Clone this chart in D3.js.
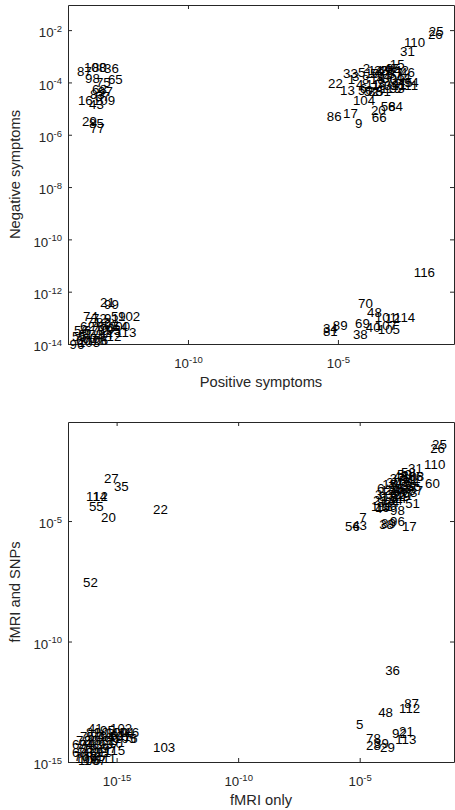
<!DOCTYPE html>
<html><head><meta charset="utf-8">
<script src="https://cdn.jsdelivr.net/npm/d3@7"></script>
<style>
body{margin:0;background:#fff}
text{font-family:"Liberation Sans",Arial,Helvetica,sans-serif}
</style>
</head><body>
<svg id="c" width="455" height="810"></svg>
<script>
// ---------- Panel 1: Positive vs Negative symptoms (log10 of values) ----------
const topLabels = [
 87,108,80,36,98,75,65,68,97,57,83,16,43,29,85,77,109,
 25,26,110,31,15,2,33,22,13,104,20,58,64,66,86,17,9,51,88,93,94,111,115,
 1,3,4,5,6,8,10,11,14,18,19,23,24,27,28,30,32,35,37,39,41,42,44,45,46,47,49,50,52,53,
 21,99,74,72,7,59,102,54,113,96,91,112,
 55,56,60,61,62,63,67,71,73,76,78,79,82,84,90,92,95,100,103,106,
 116,70,48,101,12,114,69,40,107,105,38,34,81,89
];
const topPositiveLog = [
 -13.70,-13.47,-13.20,-12.80,-13.43,-13.07,-12.67,-13.20,-13.00,-13.10,-13.27,-13.67,-13.30,-13.53,-13.30,-13.27,-13.17,
 -1.97,-2.00,-2.80,-2.93,-3.27,-4.17,-4.83,-5.33,-4.93,-4.50,-3.90,-3.57,-3.33,-3.87,-5.37,-4.83,-4.43,-3.73,-4.00,-3.27,-2.80,-3.00,-3.60,
 -4.67,-4.53,-4.40,-4.33,-4.27,-4.20,-4.10,-4.07,-4.00,-3.93,-3.87,-3.80,-3.73,-3.67,-3.60,-3.53,-3.47,-3.40,-3.33,-3.27,-3.20,-3.13,-3.07,-3.00,-2.93,-3.47,-3.67,-4.33,-4.13,-3.93,
 -12.93,-12.80,-13.50,-13.20,-13.27,-12.57,-12.33,-12.50,-12.43,-13.95,-12.80,-12.93,
 -13.87,-13.80,-13.73,-13.67,-13.60,-13.53,-13.47,-13.40,-13.33,-13.27,-13.20,-13.13,-13.07,-13.00,-12.93,-12.80,-12.73,-12.67,-13.67,-13.40,
 -2.47,-4.33,-4.03,-3.77,-3.43,-3.13,-4.43,-4.07,-3.77,-3.67,-4.50,-5.50,-5.50,-5.17
];
const topNegativeLog = [
 -3.56,-3.41,-3.41,-3.48,-3.83,-3.98,-3.90,-4.25,-4.36,-4.52,-4.44,-4.67,-4.82,-5.47,-5.55,-5.74,-4.67,
 -2.03,-2.15,-2.45,-2.83,-3.29,-3.48,-3.67,-4.02,-4.29,-4.67,-5.05,-4.90,-4.90,-5.32,-5.28,-5.17,-5.55,-4.33,-4.36,-4.21,-3.98,-4.13,-4.21,
 -3.90,-3.75,-4.06,-3.60,-4.21,-3.87,-3.67,-4.06,-3.52,-3.90,-4.13,-3.52,-3.75,-3.98,-3.52,-3.83,-4.13,-3.45,-3.67,-3.90,-4.06,-3.52,-3.79,-3.98,-3.60,-3.45,-3.52,-4.29,-4.36,-3.67,
 -12.39,-12.47,-12.93,-13.01,-13.77,-12.93,-12.93,-13.31,-13.54,-14.00,-13.01,-13.69,
 -13.69,-13.46,-13.85,-13.62,-13.31,-13.77,-13.46,-13.16,-13.62,-13.31,-13.85,-13.46,-13.16,-13.62,-13.39,-13.24,-13.46,-13.31,-13.92,-13.85,
 -11.25,-12.43,-12.78,-12.97,-13.01,-12.97,-13.20,-13.35,-13.27,-13.43,-13.62,-13.39,-13.50,-13.27
];
const topXTicks = [1e-10, 1e-5];
const topYTicks = [1e-14, 1e-12, 1e-10, 1e-8, 1e-6, 1e-4, 1e-2];

// ---------- Panel 2: fMRI only vs fMRI and SNPs (log10 of values) ----------
const botLabels = [
 27,35,114,12,55,20,22,52,
 25,26,110,31,60,19,16,98,56,7,43,38,89,96,17,51,108,
 1,2,3,4,6,8,9,11,13,14,15,18,23,24,30,32,33,34,37,40,42,44,45,46,47,49,50,53,54,57,58,59,61,63,64,65,66,67,
 41,103,109,62,76,10,
 68,69,70,71,72,73,74,75,77,79,80,81,82,83,84,85,86,88,90,91,93,94,95,97,99,100,101,102,104,105,106,107,111,115,116,
 36,87,112,48,5,92,21,113,78,28,39,29
];
const botFmriLog = [
 -15.52,-15.11,-16.26,-15.97,-16.14,-15.64,-13.50,-16.38,
 -2.02,-2.10,-2.35,-3.01,-2.31,-4.37,-4.08,-3.75,-5.60,-5.02,-5.31,-4.20,-4.12,-3.75,-3.26,-3.13,-3.26,
 -4.53,-4.45,-4.37,-4.37,-4.29,-4.29,-4.22,-4.22,-4.14,-4.14,-4.07,-4.07,-3.99,-3.99,-3.91,-3.91,-3.84,-3.84,-3.76,-3.76,-3.69,-3.69,-3.61,-3.61,-3.53,-3.53,-3.46,-3.46,-3.38,-3.38,-3.30,-3.30,-3.23,-3.23,-3.15,-3.08,-3.00,-3.00,
 -16.18,-13.50,-16.71,-15.27,-14.74,-15.35,
 -16.84,-16.84,-16.75,-16.71,-16.67,-16.59,-16.55,-16.51,-16.42,-16.42,-16.34,-16.26,-16.26,-16.18,-16.09,-16.09,-16.01,-15.93,-15.93,-15.85,-15.77,-15.68,-15.68,-15.60,-15.52,-15.44,-15.35,-15.27,-15.19,-15.11,-16.59,-16.34,-15.85,-15.52,-14.94,
 -3.95,-3.17,-3.38,-4.24,-5.15,-3.67,-3.38,-3.54,-4.74,-4.74,-4.41,-4.16
];
const botBothLog = [
 -3.22,-3.55,-3.96,-3.96,-4.38,-4.83,-4.50,-7.53,
 -1.80,-1.97,-2.63,-2.80,-3.42,-4.42,-4.34,-4.54,-5.21,-4.83,-5.17,-5.12,-5.08,-5.00,-5.21,-4.25,-3.13,
 -4.38,-4.13,-3.88,-4.46,-3.63,-4.21,-3.96,-4.38,-3.71,-4.13,-3.46,-3.96,-3.71,-4.21,-3.38,-3.88,-3.63,-4.13,-3.22,-3.80,-3.46,-4.05,-3.13,-3.71,-3.38,-3.96,-3.05,-3.63,-3.30,-3.88,-2.97,-3.55,-3.22,-3.80,-3.38,-3.55,-3.13,-3.71,
 -13.59,-14.38,-14.83,-13.88,-14.00,-14.21,
 -14.59,-14.25,-14.75,-14.42,-14.09,-14.59,-14.25,-13.92,-14.75,-14.42,-14.09,-13.76,-14.59,-14.25,-13.92,-14.75,-14.42,-14.09,-13.76,-14.59,-14.25,-13.92,-13.67,-14.42,-14.09,-13.76,-13.92,-13.59,-13.76,-14.00,-14.92,-14.92,-14.83,-14.50,-13.76,
 -11.18,-12.55,-12.76,-12.93,-13.42,-13.80,-13.71,-14.05,-14.00,-14.29,-14.21,-14.38
];
const botXTicks = [1e-15, 1e-10, 1e-5];
const botYTicks = [1e-15, 1e-10, 1e-5];

const svg = d3.select("#c");
const AX = "#262626";

function supLabel(sel){
  sel.each(function(d){
    const t = d3.select(this);
    const e = Math.round(Math.log10(d));
    t.text(null);
    t.append("tspan").text("10");
    t.append("tspan").attr("dy","-0.55em").attr("font-size","9.5px").text(String(e));
  });
}

function panel(cfg){
  const x = d3.scaleLog().domain(cfg.xDom).range([cfg.l, cfg.r]);
  const y = d3.scaleLog().domain(cfg.yDom).range([cfg.b, cfg.t]);
  const g = svg.append("g");
  const data = cfg.labels.map((lab,i)=>({lab, xv: Math.pow(10,cfg.xs[i]), yv: Math.pow(10,cfg.ys[i])}));

  const ax = g.append("g").attr("transform",`translate(0,${cfg.b})`)
    .call(d3.axisBottom(x).tickValues(cfg.xTicks).tickSizeInner(-4).tickSizeOuter(0).tickPadding(15));
  ax.selectAll(".tick text").call(supLabel);
  g.append("g").attr("transform",`translate(0,${cfg.t})`)
    .call(d3.axisTop(x).tickValues(cfg.xTicks).tickSizeInner(-4).tickSizeOuter(0).tickFormat(""));
  const ay = g.append("g").attr("transform",`translate(${cfg.l},0)`)
    .call(d3.axisLeft(y).tickValues(cfg.yTicks).tickSizeInner(-4).tickSizeOuter(0).tickPadding(6));
  ay.selectAll(".tick text").attr("dy","0.5em").call(supLabel);
  g.append("g").attr("transform",`translate(${cfg.r},0)`)
    .call(d3.axisRight(y).tickValues(cfg.yTicks).tickSizeInner(-4).tickSizeOuter(0).tickFormat(""));
  g.selectAll(".domain").attr("stroke",AX).attr("stroke-width",1);
  g.selectAll(".tick line").attr("stroke",AX);
  g.selectAll(".tick text").attr("fill",AX).attr("font-size","13.3px")
    .attr("font-family",'"Liberation Sans",Arial,sans-serif');

  g.append("g").selectAll("text").data(data).join("text")
    .attr("x", d=>x(d.xv)).attr("y", d=>y(d.yv)).attr("dy","0.35em")
    .attr("font-size","13.3px").attr("fill","#000").text(d=>d.lab);

  g.append("text").attr("x",(cfg.l+cfg.r)/2).attr("y",cfg.b+43)
    .attr("text-anchor","middle").attr("font-size","14.7px").attr("fill",AX).text(cfg.xLabel);
  g.append("text").attr("transform",`translate(20,${(cfg.t+cfg.b)/2}) rotate(-90)`)
    .attr("text-anchor","middle").attr("font-size","14.7px").attr("fill",AX).text(cfg.yLabel);
}

panel({labels: topLabels, xs: topPositiveLog, ys: topNegativeLog,
  xDom:[1e-14, Math.pow(10,-1.13)], yDom:[1e-14, Math.pow(10,-1.04)],
  l:68, r:454, t:5, b:344, xTicks: topXTicks, yTicks: topYTicks,
  xLabel:"Positive symptoms", yLabel:"Negative symptoms"});

panel({labels: botLabels, xs: botFmriLog, ys: botBothLog,
  xDom:[1e-17, Math.pow(10,-1.12)], yDom:[1e-15, Math.pow(10,-0.89)],
  l:68, r:454, t:422, b:762, xTicks: botXTicks, yTicks: botYTicks,
  xLabel:"fMRI only", yLabel:"fMRI and SNPs"});
</script>
</body></html>
